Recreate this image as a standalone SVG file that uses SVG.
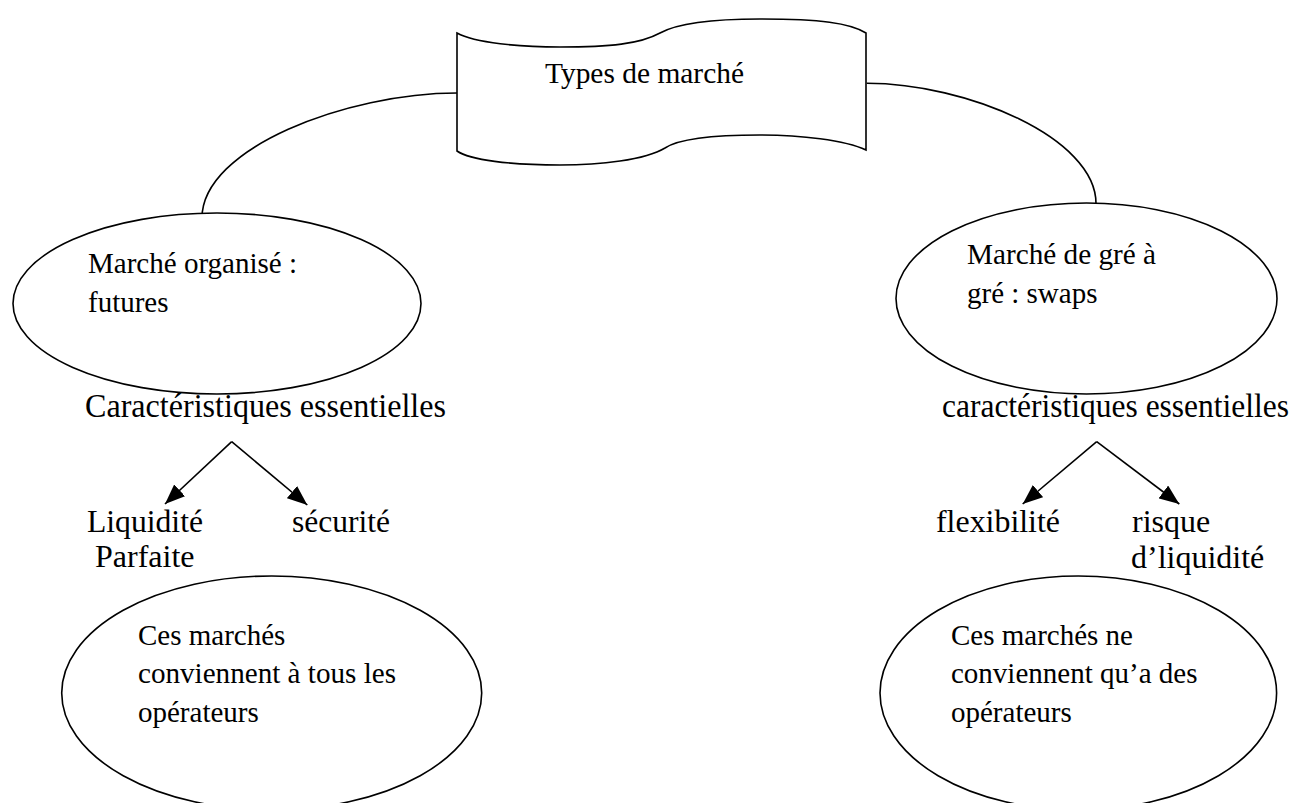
<svg xmlns="http://www.w3.org/2000/svg" width="1298" height="803" viewBox="0 0 1298 803">
<style>
.s{fill:#fff;stroke:#000;stroke-width:1.6}
.c{fill:none;stroke:#000;stroke-width:1.6}
text{fill:#000}
.t29{font-size:29px}
.t32{font-size:32px}
.t33{font-size:33.5px}
</style>
<defs>
<marker id="ah" viewBox="0 0 20 16" refX="20" refY="8" markerWidth="20" markerHeight="16" markerUnits="userSpaceOnUse" orient="auto">
<path d="M0,0 L20,8 L0,16 z" fill="#000"/>
</marker>
</defs>
<rect width="1298" height="803" fill="#fff"/>
<g id="connectors">
<path class="c" d="M457,93 C347,93 202,148 202,218"/>
<path class="c" d="M866.7,83.3 C966.7,83.3 1096,138 1096,203.5"/>
<line class="c" x1="231.7" y1="441.7" x2="165" y2="504" marker-end="url(#ah)"/>
<line class="c" x1="231.7" y1="441.7" x2="307.3" y2="505" marker-end="url(#ah)"/>
<line class="c" x1="1096.7" y1="441.7" x2="1022.7" y2="504" marker-end="url(#ah)"/>
<line class="c" x1="1096.7" y1="441.7" x2="1179.3" y2="504" marker-end="url(#ah)"/>
</g>
<g font-family="Liberation Serif, Times New Roman, serif">
<g id="types">
<path class="s" d="M457,33 C475,43 520,47 560,47 C610,47 640,44 660,33 C680,22 720,19 760,19 C820,19 850,23 866,33 L866,150 C845,140 800,135 760,135 C720,135 680,138 665,148 C645,160 600,165 560,165 C510,165 470,160 457,151 Z"/>
<text class="t29" x="545" y="83" textLength="199" lengthAdjust="spacingAndGlyphs">Types de marché</text>
</g>
<g id="organise">
<ellipse class="s" cx="217" cy="303.5" rx="204" ry="90.5"/>
<text class="t29" x="88" y="273" textLength="209" lengthAdjust="spacingAndGlyphs">Marché organisé :</text>
<text class="t29" x="88" y="312">futures</text>
</g>
<g id="gre">
<ellipse class="s" cx="1086.5" cy="298.5" rx="190.5" ry="95.5"/>
<text class="t29" x="967" y="264" textLength="189" lengthAdjust="spacingAndGlyphs">Marché de gré à</text>
<text class="t29" x="967" y="303">gré : swaps</text>
</g>
<g id="carac-left">
<text class="t33" x="85" y="417" textLength="361" lengthAdjust="spacingAndGlyphs">Caractéristiques essentielles</text>
</g>
<g id="carac-right">
<text class="t33" x="942" y="417" textLength="347" lengthAdjust="spacingAndGlyphs">caractéristiques essentielles</text>
</g>
<g id="liquidite">
<text class="t32" x="87" y="532" textLength="116" lengthAdjust="spacingAndGlyphs">Liquidité</text>
<text class="t32" x="95" y="567">Parfaite</text>
</g>
<g id="securite">
<text class="t32" x="292" y="532" textLength="98" lengthAdjust="spacingAndGlyphs">sécurité</text>
</g>
<g id="flexibilite">
<text class="t32" x="936" y="532" textLength="124" lengthAdjust="spacingAndGlyphs">flexibilité</text>
</g>
<g id="risque">
<text class="t32" x="1132" y="532">risque</text>
<text class="t32" x="1131" y="568">d’liquidité</text>
</g>
<g id="tous">
<ellipse class="s" cx="271.7" cy="693" rx="210" ry="117"/>
<text class="t29" x="138" y="645">Ces marchés</text>
<text class="t29" x="138" y="683" textLength="258" lengthAdjust="spacingAndGlyphs">conviennent à tous les</text>
<text class="t29" x="138" y="722">opérateurs</text>
</g>
<g id="certains">
<ellipse class="s" cx="1078.3" cy="693" rx="198.3" ry="117"/>
<text class="t29" x="951" y="645">Ces marchés ne</text>
<text class="t29" x="951" y="683">conviennent qu’a des</text>
<text class="t29" x="951" y="722">opérateurs</text>
</g>
</g>
</svg>
